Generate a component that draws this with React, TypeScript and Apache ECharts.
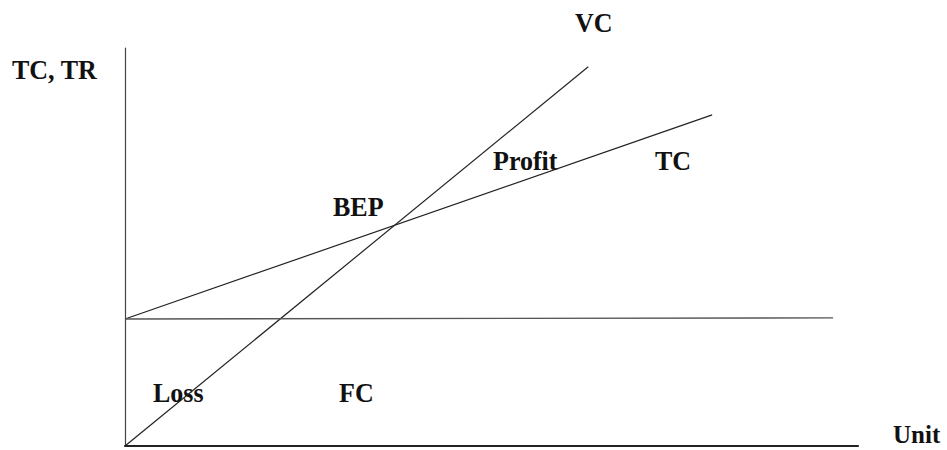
import React, { useEffect, useRef } from "react";
import * as echarts from "echarts";

// Break-even diagram lines, in chart units (x: 0..100 units, y: 0..100 TC/TR)
const vcLine: number[][] = [[0, 0], [63.2, 95.3]];
const tcLine: number[][] = [[0, 31.9], [80.1, 83.2]];
const fcLine: number[][] = [[0, 31.9], [96.6, 32.2]];

const axisMax = { x: 100, y: 100 };

const FONT = "'Liberation Serif', 'Times New Roman', serif";

export default function App() {
  const ref = useRef<HTMLDivElement>(null);
  useEffect(() => {
    if (!ref.current) return;
    const chart = echarts.init(ref.current, null, { renderer: "svg" });
    const txt = (text: string, x: number, y: number, size = 26, sy = 1.06) => ({
      type: "text",
      x,
      y,
      scaleY: sy,
      silent: true,
      style: {
        text,
        fill: "#111",
        font: `bold ${size}px ${FONT}`,
        lineHeight: 22,
        textAlign: "left",
        textVerticalAlign: "middle",
        verticalAlign: "middle",
      },
    });
    const lineSeries = (name: string, data: number[][], color: string, width: number) => ({
      type: "line",
      name,
      data,
      symbol: "none",
      silent: true,
      lineStyle: { color, width },
      z: 3,
    });
    chart.setOption({
      animation: false,
      backgroundColor: "#ffffff",
      grid: { left: 125, top: 48, right: 89, bottom: 4 },
      xAxis: {
        type: "value",
        min: 0,
        max: axisMax.x,
        axisLine: { show: true, lineStyle: { color: "#222", width: 2.2 } },
        axisTick: { show: false },
        axisLabel: { show: false },
        splitLine: { show: false },
      },
      yAxis: {
        type: "value",
        min: 0,
        max: axisMax.y,
        axisLine: { show: true, lineStyle: { color: "#444", width: 1.2 } },
        axisTick: { show: false },
        axisLabel: { show: false },
        splitLine: { show: false },
      },
      series: [
        lineSeries("VC", vcLine, "#222", 1.2),
        lineSeries("TC", tcLine, "#222", 1.2),
        lineSeries("FC", fcLine, "#555", 1.4),
      ],
      graphic: [
        txt("TC, TR", 12, 69.5),
        txt("VC", 575, 22.5),
        txt("BEP", 333, 207),
        txt("Profit", 493, 161),
        txt("TC", 655, 161),
        txt("Loss", 153, 392.5),
        txt("FC", 339, 392.5),
        txt("Unit", 893, 434, 25, 1),
      ],
    });
    return () => chart.dispose();
  }, []);
  return (
    <div
      ref={ref}
      style={{ position: "absolute", left: 0, top: 0, width: 947, height: 450 }}
    />
  );
}
